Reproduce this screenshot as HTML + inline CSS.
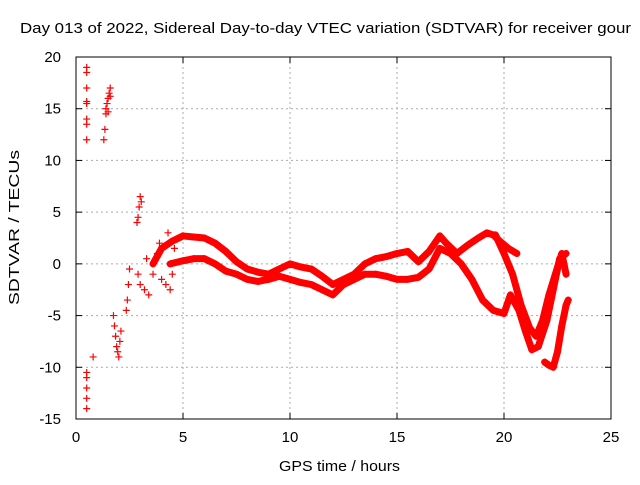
<!DOCTYPE html>
<html><head><meta charset="utf-8"><style>
body{margin:0;background:#fff}
svg text{font-family:"Liberation Sans",sans-serif;font-size:15px;fill:#000}
</style></head><body>
<svg id="chart" width="640" height="480" viewBox="0 0 640 480" xmlns="http://www.w3.org/2000/svg">
<rect width="640" height="480" fill="#fff"/>
<g id="grid"></g>
<g id="axes"></g>
<g id="marks"></g>
<text x="20" y="33" textLength="611" lengthAdjust="spacingAndGlyphs">Day 013 of 2022, Sidereal Day-to-day VTEC variation (SDTVAR) for receiver gour</text>
<text x="279" y="471" textLength="121" lengthAdjust="spacingAndGlyphs">GPS time / hours</text>
<text x="0" y="0" transform="translate(19,305) rotate(-90)" textLength="155" lengthAdjust="spacingAndGlyphs">SDTVAR / TECUs</text>
</svg>
<script>
const xTicks=[0,5,10,15,20,25];
const yTicks=[-15,-10,-5,0,5,10,15,20];
// scattered early points
const scatterT=[0.5,0.5,0.5,0.5,0.5,0.5,0.5,0.5,0.5,0.5,0.5,0.5,0.5,0.8,1.3,1.35,1.4,1.45,1.5,1.55,1.6,1.4,1.5,1.6,1.75,1.8,1.85,1.9,1.95,2.0,2.05,2.1,2.35,2.4,2.45,2.5,2.85,2.9,2.95,3.0,3.05,2.9,3.0,3.2,3.4,3.3,3.6,3.8,4.0,4.2,4.4,4.5,4.6,4.3,3.9];
const scatterV=[19,18.5,17,15.7,15.5,14,13.5,12,-10.5,-11,-12,-13,-14,-9,12,13,14.5,15.5,16,16.5,17,15,14.7,16.2,-5,-6,-7,-8,-8.5,-9,-7.5,-6.5,-4.5,-3.5,-2,-0.5,4,4.5,5.5,6.5,6,-1,-2,-2.5,-3,0.5,-1,1,-1.5,-2,-2.5,-1,1.5,3,2];
// main bands
const bandAT=[3.6,4,4.5,5,5.5,6,6.5,7,7.5,8,8.5,9,9.5,10,10.5,11,11.5,12,12.5,13,13.5,14,14.5,15,15.5,16,16.5,17,17.3,17.8,18.3,18.8,19.2,19.5,19.8,20.2,20.6];
const bandAV=[0,1.5,2.2,2.7,2.6,2.5,2,1.2,0.2,-0.5,-0.8,-1,-0.5,0,-0.3,-0.5,-1.2,-2,-1.5,-1,0,0.5,0.7,1,1.2,0.2,1.2,2.7,2,1,1.8,2.5,3,2.8,2.2,1.5,1];
const bandBT=[4.4,5,5.5,6,6.5,7,7.5,8,8.5,9,9.5,10,10.5,11,11.5,12,12.5,13,13.5,14,14.5,15,15.5,16,16.5,17,17.5,18,18.5,19,19.5,20,20.3,20.7,21,21.3,21.6,22,22.3,22.6,22.9];
const bandBV=[0,0.3,0.5,0.5,0,-0.7,-1,-1.5,-1.7,-1.5,-1.2,-1.5,-1.8,-2,-2.5,-3,-2,-1.5,-1,-1,-1.2,-1.5,-1.5,-1.3,-0.5,1.5,1,0,-1.5,-3.5,-4.5,-4.8,-3,-4.5,-6.5,-8.3,-8,-5.5,-2.5,0.5,1];
const loopT=[19.6,20,20.4,20.8,21.2,21.5,21.8,22.1,22.4,22.7,22.9];
const loopV=[2.8,1,-1,-4,-6.2,-7,-5.5,-3,-1,1,-1];
const bottomT=[21.9,22.1,22.3,22.5,22.7,22.9,23];
const bottomV=[-9.5,-9.8,-10,-8.5,-6,-4,-3.5];
const series=[[scatterT,scatterV,false],[bandAT,bandAV,true],[bandBT,bandBV,true],[loopT,loopV,true],[bottomT,bottomV,true]];
const X0=76,X1=611,Y0=419,Y1=57;
const xs=t=>X0+(t-0)/25*(X1-X0);
const ys=v=>Y0-(v+15)/35*(Y0-Y1);
const NS="http://www.w3.org/2000/svg";
function mk(tag,attrs,parent){const e=document.createElementNS(NS,tag);for(const k in attrs)e.setAttribute(k,attrs[k]);parent.appendChild(e);return e;}
const grid=document.getElementById('grid'),axes=document.getElementById('axes'),marks=document.getElementById('marks');
xTicks.forEach(t=>{const x=xs(t);
 if(t>0&&t<25){const g=mk('line',{x1:x,x2:x,y1:Y1,y2:Y0,stroke:'#aaa','stroke-dasharray':'2,3'},grid);
 }
 mk('line',{x1:x,x2:x,y1:Y0,y2:Y0-6,stroke:'#000'},axes);mk('line',{x1:x,x2:x,y1:Y1,y2:Y1+6,stroke:'#000'},axes);
 const tx=mk('text',{x:x,y:Y0+23,'text-anchor':'middle'},axes);tx.textContent=t;
 });
yTicks.forEach(v=>{const y=ys(v);
 if(v>-15&&v<20){const g=mk('line',{x1:X0,x2:X1,y1:y,y2:y,stroke:'#aaa','stroke-dasharray':'2,3'},grid);
 }
 mk('line',{x1:X0,x2:X0+6,y1:y,y2:y,stroke:'#000'},axes);mk('line',{x1:X1,x2:X1-6,y1:y,y2:y,stroke:'#000'},axes);
 const tx=mk('text',{x:X0-15,y:y+5,'text-anchor':'end'},axes);tx.textContent=v;
 });
const frame=mk('rect',{x:X0,y:Y1,width:X1-X0,height:Y0-Y1,fill:'none',stroke:'#000'},axes);


series.forEach(([T,V,band])=>{
 if(band){const pl=mk('polyline',{points:T.map((t,i)=>xs(t)+','+ys(V[i])).join(' '),fill:'none',stroke:'#f00','stroke-width':7,'stroke-linejoin':'round','stroke-linecap':'round'},marks);
 }
 T.forEach((t,i)=>{const x=xs(t),y=ys(V[i]);
  const p=mk('path',{d:`M${x-3.5},${y}H${x+3.5}M${x},${y-3.5}V${y+3.5}`,stroke:'#f00','stroke-width':1.2},marks);
  });
});
</script>
</body></html>
